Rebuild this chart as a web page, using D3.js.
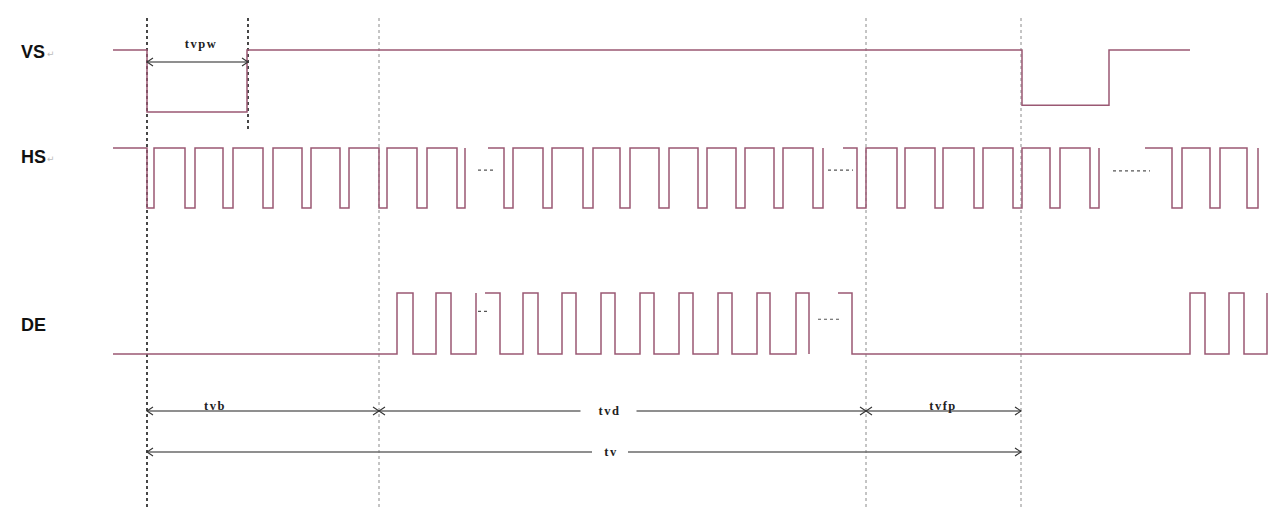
<!DOCTYPE html>
<html><head><meta charset="utf-8">
<script src="https://cdn.jsdelivr.net/npm/d3@7"></script>
<style>html,body{margin:0;padding:0;background:#fff;}svg{display:block;}</style>
</head><body>
<svg id="c" width="1270" height="512"></svg>
<script>
// ---- data (time units of the diagram) ----
const signalNames = ["VS", "HS", "DE"];

// VS: starts high, toggles at these times; low levels for its two low phases
const vsStart = 113, vsEnd = 1190;
const vsToggles = [147, 247, 1022, 1109];
const vsLowLevels = [0, 0.11];

// HS pieces (start high), separated by "..." gaps
const hsPieces = [
  {start: 113, level: 1, toggles: [147,154,185,195,223,233,263,273,302,311,340,349,379,387,417,427,457,465], end: 465},
  {start: 488, level: 1, toggles: [504,513,543,552,583,593,620,630,659,669,698,707,736,745,774,783,813,823], end: 823},
  {start: 843, level: 1, toggles: [857,866,897,905,935,943,974,983,1013,1022,1050,1060,1090,1099], end: 1099},
  {start: 1145, level: 1, toggles: [1172,1182,1210,1220,1247,1258], end: 1258}
];
const hsDots = [[478, 494, 0.63], [828, 853, 0.63], [1113, 1150, 0.62]];

// DE pieces
const dePieces = [
  {start: 113, level: 0, toggles: [397,413,436,451,476], end: 476},
  {start: 485, level: 1, toggles: [500,523,538,562,576,601,615,640,654,679,693,718,732,757,770,796,809], end: 809},
  {start: 838, level: 1, toggles: [852,1190,1205,1229,1244,1267], end: 1267}
];
const deDots = [[478, 490, 0.70], [818, 842, 0.57]];

// vertical reference lines
const markerTimes = [147, 248, 379, 866, 1021];
const markerKinds = ["strong", "strongShort", "light", "light", "light"];

// timing intervals
const intervalLabels = ["tvpw", "tvb", "tvd", "tvfp", "tv"];
const intervalFrom = [147, 147, 379, 866, 147];
const intervalTo   = [248, 379, 866, 1021, 1021];
const intervalRow  = [0, 1, 1, 1, 2];

// ---- layout ----
const svg = d3.select("#c");
const x = d3.scaleLinear().domain([0, 1270]).range([0, 1270]);
const lanes = {
  VS: d3.scaleLinear().domain([0, 1]).range([112, 50]),
  HS: d3.scaleLinear().domain([0, 1]).range([208, 148]),
  DE: d3.scaleLinear().domain([0, 1]).range([354, 293])
};
const labelY = {VS: 58, HS: 163, DE: 331};
const rowY = [62, 411, 452];
const sigColor = "#9a5873";

function stepPoints(p, lows) {
  const pts = [];
  let L = p.level, lowIdx = 0;
  const lv = l => (l === 1 ? 1 : (lows ? lows[Math.min(lowIdx, lows.length - 1)] : 0));
  pts.push([p.start, lv(L)]);
  p.toggles.forEach(t => {
    pts.push([t, lv(L)]);
    if (L === 0) lowIdx++;
    L = 1 - L;
    pts.push([t, lv(L)]);
  });
  pts.push([p.end, lv(L)]);
  return pts;
}

// vertical dashed markers
svg.append("g").selectAll("line").data(markerTimes).join("line")
  .attr("x1", d => x(d)).attr("x2", d => x(d))
  .attr("y1", 18)
  .attr("y2", (d, i) => markerKinds[i] === "strongShort" ? 130 : 508)
  .attr("stroke", (d, i) => markerKinds[i] === "light" ? "#8a8a8a" : "#1a1a1a")
  .attr("stroke-width", (d, i) => markerKinds[i] === "light" ? 1 : 1.6)
  .attr("stroke-dasharray", "3,3");

// signals
const line = lane => d3.line().x(d => x(d[0])).y(d => lanes[lane](d[1]));
const gSig = svg.append("g").attr("fill", "none").attr("stroke", sigColor).attr("stroke-width", 1.5);
gSig.append("path").attr("d", line("VS")(stepPoints({start: vsStart, level: 1, toggles: vsToggles, end: vsEnd}, vsLowLevels)));
hsPieces.forEach(p => gSig.append("path").attr("d", line("HS")(stepPoints(p))));
dePieces.forEach(p => gSig.append("path").attr("d", line("DE")(stepPoints(p))));

// continuation dots
const gDots = svg.append("g").attr("stroke", "#555").attr("stroke-width", 1.2).attr("stroke-dasharray", "3,3");
hsDots.forEach(d => gDots.append("line").attr("x1", x(d[0])).attr("x2", x(d[1])).attr("y1", lanes.HS(d[2])).attr("y2", lanes.HS(d[2])));
deDots.forEach(d => gDots.append("line").attr("x1", x(d[0])).attr("x2", x(d[1])).attr("y1", lanes.DE(d[2])).attr("y2", lanes.DE(d[2])));

// signal labels
signalNames.forEach(n => {
  svg.append("text").attr("x", 21).attr("y", labelY[n])
    .attr("font-family", "Liberation Sans, Arial, sans-serif").attr("font-weight", "bold")
    .attr("font-size", 18).attr("fill", "#111").text(n);
  if (n !== "DE") {
    svg.append("text").attr("x", 47).attr("y", labelY[n] - 1)
      .attr("font-family", "DejaVu Sans, sans-serif").attr("font-size", 9).attr("fill", "#bbb").text("\u21B5");
  }
});

// intervals
const gInt = svg.append("g");
intervalLabels.forEach((lab, i) => {
  const y = rowY[intervalRow[i]];
  const x0 = x(intervalFrom[i]), x1 = x(intervalTo[i]);
  const mid = lab === "tvb" ? 214 : lab === "tvfp" ? 942 : lab === "tvpw" ? 200 : (x0 + x1) / 2 + (lab === "tv" ? 26 : -14);
  const gap = (lab === "tvd" || lab === "tv");
  const tw = lab === "tvd" ? 28 : 18;
  const segList = gap ? [[x0, mid - tw], [mid + tw, x1]] : [[x0, x1]];
  segList.forEach(s => gInt.append("line").attr("x1", s[0]).attr("x2", s[1]).attr("y1", y).attr("y2", y)
    .attr("stroke", "#6a6a6a").attr("stroke-width", 1.5));
  // chevrons
  [[x0, -1], [x1, 1]].forEach(([px, dir]) => {
    gInt.append("path").attr("d", `M${px - dir * 6},${y - 4}L${px},${y}L${px - dir * 6},${y + 4}`)
      .attr("fill", "none").attr("stroke", "#333").attr("stroke-width", 1.1);
  });
  gInt.append("text").attr("x", mid + 1).attr("y", gap ? y + 4 : y - (lab === "tvpw" ? 14 : 1))
    .attr("text-anchor", "middle")
    .attr("letter-spacing", "1.5px")
    .attr("font-family", "Liberation Serif, Times New Roman, serif").attr("font-weight", "bold")
    .attr("font-size", 12.5).attr("fill", "#222").text(lab);
});
</script>
</body></html>
